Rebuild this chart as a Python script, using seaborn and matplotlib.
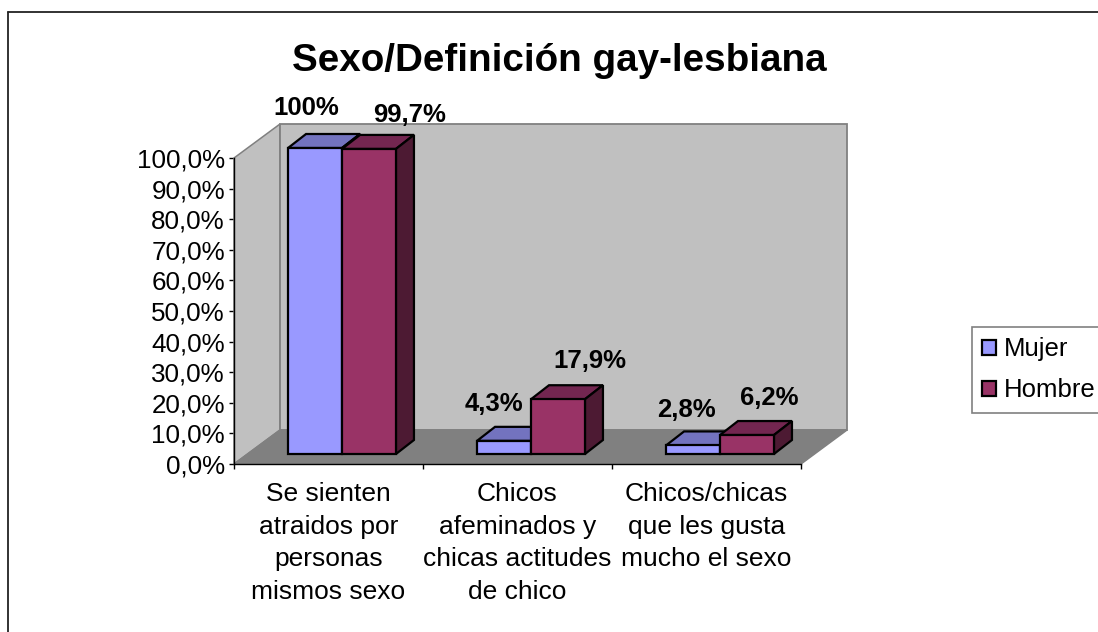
import seaborn as sns
import matplotlib.pyplot as plt
import pandas as pd
from matplotlib.lines import Line2D
from matplotlib.patches import Patch, Polygon

# Values
categories = ['Se sienten\natraidos por\npersonas\nmismos sexo',
              'Chicos\nafeminados y\nchicas actitudes\nde chico',
              'Chicos/chicas\nque les gusta\nmucho el sexo']
mujer = [100, 4.3, 2.8]
hombre = [99.7, 17.9, 6.2]
mujer_labels = ['100%', '4,3%', '2,8%']
hombre_labels = ['99,7%', '17,9%', '6,2%']
y_ticks = [0, 10, 20, 30, 40, 50, 60, 70, 80, 90, 100]

df = pd.DataFrame({
    'Categoria': categories * 2,
    'Valor': mujer + hombre,
    'Sexo': ['Mujer'] * 3 + ['Hombre'] * 3,
})

colors = {'Mujer': '#9999FF', 'Hombre': '#993366'}
top_colors = {'Mujer': '#7373BF', 'Hombre': '#732650'}
side_colors = {'Mujer': '#4D4D80', 'Hombre': '#4D1A33'}

sns.set_style('white')
plt.rcParams['font.family'] = ['Liberation Sans', 'DejaVu Sans']

W, H = 1098, 632
fig = plt.figure(figsize=(W / 100, H / 100), dpi=100)

# axes = the front plane of the fake 3D box
ax_left, ax_right, ax_top, ax_bottom = 234, 801, 158, 464
ax = fig.add_axes([ax_left / W, 1 - ax_bottom / H,
                   (ax_right - ax_left) / W, (ax_bottom - ax_top) / H])

sns.barplot(data=df, x='Categoria', y='Valor', hue='Sexo', palette=colors,
            width=0.571, gap=0, saturation=1, edgecolor='black', linewidth=1.6,
            legend=False, ax=ax, zorder=5)
ax.set_xlim(-0.5, 2.5)
ax.set_ylim(0, 100)

# pixel sizes to data units
px_x = 3 / (ax_right - ax_left)
px_y = 100 / (ax_bottom - ax_top)

# walls and floor
wall_dx, wall_dy = 46 * px_x, 34 * px_y
x0, x1 = -0.5, 2.5
wall_edge = '#808080'
ax.add_patch(Polygon([(x0, 0), (x0 + wall_dx, wall_dy), (x0 + wall_dx, 100 + wall_dy), (x0, 100)],
                     facecolor='#C0C0C0', edgecolor=wall_edge, lw=1.1, clip_on=False, zorder=1))
ax.add_patch(Polygon([(x0 + wall_dx, wall_dy), (x1 + wall_dx, wall_dy), (x1 + wall_dx, 100 + wall_dy),
                      (x0 + wall_dx, 100 + wall_dy)],
                     facecolor='#C0C0C0', edgecolor=wall_edge, lw=1.3, clip_on=False, zorder=1))
ax.add_patch(Polygon([(x0, 0), (x1, 0), (x1 + wall_dx, wall_dy), (x0 + wall_dx, wall_dy)],
                     facecolor='#808080', edgecolor=wall_edge, lw=1.1, clip_on=False, zorder=2))

# bars sit part way into the box, then get a top and a side
shift_x, shift_y = 13.5 * px_x, 10 * px_y
bar_dx, bar_dy = 18 * px_x, 14 * px_y
sexes = ['Mujer'] * 3 + ['Hombre'] * 3
labels = mujer_labels + hombre_labels
label_offsets = [(-9, 40), (-10, 37), (-7, 35), (41, 34), (32, 38), (22, 37)]

bars = [b for container in ax.containers for b in container]
for bar, sexo, label, off in zip(bars, sexes, labels, label_offsets):
    bar.set_x(bar.get_x() + shift_x)
    bar.set_y(bar.get_y() + shift_y)
    bar.set_clip_on(False)
    bx0, bx1 = bar.get_x(), bar.get_x() + bar.get_width()
    by0, by1 = bar.get_y(), bar.get_y() + bar.get_height()
    ax.add_patch(Polygon([(bx0, by1), (bx1, by1), (bx1 + bar_dx, by1 + bar_dy), (bx0 + bar_dx, by1 + bar_dy)],
                         facecolor=top_colors[sexo], edgecolor='black', lw=1.6,
                         clip_on=False, zorder=4))
    ax.add_patch(Polygon([(bx1, by0), (bx1 + bar_dx, by0 + bar_dy), (bx1 + bar_dx, by1 + bar_dy), (bx1, by1)],
                         facecolor=side_colors[sexo], edgecolor='black', lw=1.6,
                         clip_on=False, zorder=4))
    ax.annotate(label, xy=((bx0 + bx1) / 2, by1), xycoords='data', annotation_clip=False,
                xytext=off, textcoords='offset pixels', ha='center', va='center',
                fontsize=18.5, fontweight='bold', color='black', zorder=10)

# axes lines and ticks
for side in ['top', 'right']:
    ax.spines[side].set_visible(False)
for side in ['left', 'bottom']:
    ax.spines[side].set_color('black')
    ax.spines[side].set_linewidth(1.0)
    ax.spines[side].set_zorder(6)
ax.patch.set_visible(False)

ax.set_yticks(y_ticks)
ax.set_yticklabels([f'{v},0%' for v in y_ticks], fontsize=18.7, color='black')
ax.set_xticks([-0.5, 0.5, 1.5, 2.5])
ax.set_xticklabels([])
ax.tick_params(axis='both', direction='out', length=3.5, width=1, color='black',
               left=True, bottom=True, pad=3)
ax.set_xlabel('')
ax.set_ylabel('')

for i, cat in enumerate(categories):
    ax.annotate(cat, xy=(i, 0), xycoords='data', annotation_clip=False,
                xytext=(0, -18), textcoords='offset pixels',
                ha='center', va='top', fontsize=19, linespacing=1.46, color='black')

# title
fig.text(559.5 / W, 1 - 61 / H, 'Sexo/Definición gay-lesbiana', ha='center', va='center',
         fontsize=27.8, fontweight='bold', color='black')

# legend runs off the right side of the picture, same as the outer frame
handles = [Patch(facecolor=colors[s], edgecolor='black', linewidth=1.6, label=s)
           for s in ['Mujer', 'Hombre']]
leg = fig.legend(handles=handles, loc='upper left',
                 bbox_to_anchor=(972 / W, 1 - 327 / H), bbox_transform=fig.transFigure,
                 fontsize=18.5, frameon=True, fancybox=False, edgecolor='#808080', framealpha=1,
                 handlelength=0.54, handleheight=0.54, handletextpad=0.3,
                 labelspacing=0.67, borderpad=0.4, borderaxespad=0)
leg.get_frame().set_linewidth(1.2)
for text in leg.get_texts():
    text.set_color('black')

# outer chart frame
fig.add_artist(Line2D([7.5 / W, 7.5 / W], [0, 1 - 11.5 / H], color='#222222', lw=1.3))
fig.add_artist(Line2D([7.5 / W, 1], [1 - 11.5 / H, 1 - 11.5 / H], color='#222222', lw=1.3))

plt.savefig('out.png', dpi=100)
plt.close()
